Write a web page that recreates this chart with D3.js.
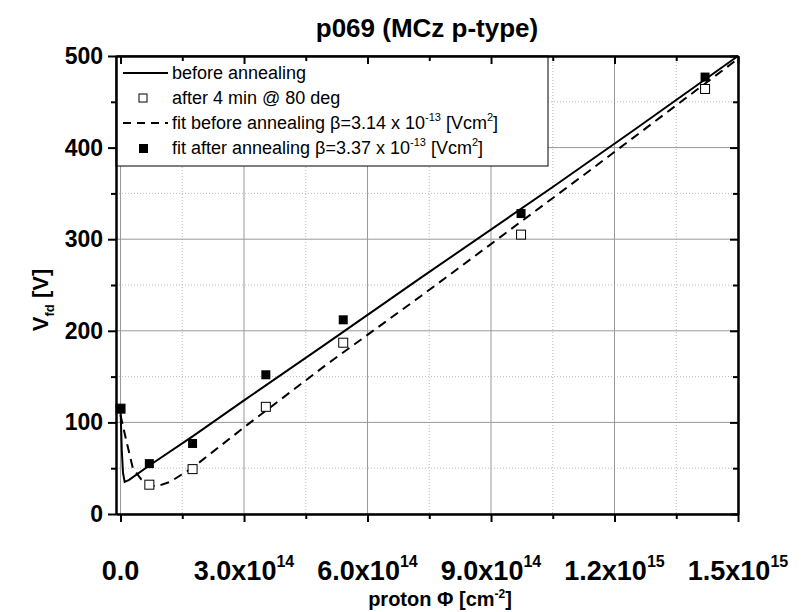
<!DOCTYPE html>
<html>
<head>
<meta charset="utf-8">
<script src="https://cdn.jsdelivr.net/npm/d3@7/dist/d3.min.js"></script>
<style>
  body { margin: 0; background: #fff; }
  text { font-family: "Liberation Sans", Arial, sans-serif; }
</style>
</head>
<body>
<svg id="chart" width="802" height="612"></svg>
<script>
// measured points (fluence in cm^-2, Vfd in V)
const fluence = [0, 7e13, 1.75e14, 3.53e14, 5.41e14, 9.73e14, 1.42e15];
const vfdAfter4min = [115, 32, 49, 117, 187, 305, 464];
const vfdAfterAnneal = [115, 55, 77, 152, 212, 328, 477];

// curves
const beforeFluence = [0, 3e12, 6e12, 1e13, 2e13, 7e13, 1.76e14, 3e14, 5e14, 7.3e14, 1.05e15, 1.25e15, 1.5e15];
const beforeV = [115, 70, 45, 35, 37, 53, 85, 124, 186, 258, 357, 420, 500];
const fitFluence = [0, 1.4e13, 3e13, 5e13, 7e13, 9e13, 1.2e14, 1.75e14, 3.07e14, 5e14, 7.3e14, 8.2e14, 1.14e15, 1.5e15];
const fitV = [108, 80, 50, 38, 31, 30.5, 35, 50.5, 97, 163, 238, 268, 375, 497];

const xMajor = [0, 3e14, 6e14, 9e14, 1.2e15, 1.5e15];
const xMinor = [1.5e14, 4.5e14, 7.5e14, 1.05e15, 1.35e15];
const xLabels = [["0.0", ""], ["3.0x10", "14"], ["6.0x10", "14"], ["9.0x10", "14"], ["1.2x10", "15"], ["1.5x10", "15"]];
const yMajor = [0, 100, 200, 300, 400, 500];
const yMinor = [50, 150, 250, 350, 450];

const svg = d3.select("#chart");
const pLeft = 116, pRight = 738, pTop = 56, pBottom = 514;

const x = d3.scaleLinear().domain([-1.1e13, 1.5e15]).range([pLeft, pRight]);
const y = d3.scaleLinear().domain([0, 500]).range([pBottom, pTop]);

// grid
const grid = svg.append("g");
grid.selectAll(".gxm").data(xMinor).join("line")
  .attr("x1", d => x(d)).attr("x2", d => x(d)).attr("y1", pTop).attr("y2", pBottom)
  .attr("stroke", "#bbb").attr("stroke-dasharray", "1,2");
grid.selectAll(".gym").data(yMinor).join("line")
  .attr("x1", pLeft).attr("x2", pRight).attr("y1", d => y(d)).attr("y2", d => y(d))
  .attr("stroke", "#bbb").attr("stroke-dasharray", "1,2");
grid.selectAll(".gx").data(xMajor).join("line")
  .attr("x1", d => x(d)).attr("x2", d => x(d)).attr("y1", pTop).attr("y2", pBottom)
  .attr("stroke", "#999");
grid.selectAll(".gy").data(yMajor).join("line")
  .attr("x1", pLeft).attr("x2", pRight).attr("y1", d => y(d)).attr("y2", d => y(d))
  .attr("stroke", "#999");

// curves
const line = d3.line().x(d => x(d[0])).y(d => y(d[1]));
svg.append("path")
  .attr("d", line(d3.zip(beforeFluence, beforeV)))
  .attr("fill", "none").attr("stroke", "#000").attr("stroke-width", 2);
svg.append("path")
  .attr("d", line(d3.zip(fitFluence, fitV)))
  .attr("fill", "none").attr("stroke", "#000").attr("stroke-width", 2)
  .attr("stroke-dasharray", "9,6");

// markers
const ms = 9;
svg.selectAll(".open").data(d3.zip(fluence, vfdAfter4min)).join("rect")
  .attr("x", d => x(d[0]) - ms / 2).attr("y", d => y(d[1]) - ms / 2)
  .attr("width", ms).attr("height", ms)
  .attr("fill", "#fff").attr("stroke", "#000").attr("stroke-width", 1);
svg.selectAll(".filled").data(d3.zip(fluence, vfdAfterAnneal)).join("rect")
  .attr("x", d => x(d[0]) - ms / 2).attr("y", d => y(d[1]) - ms / 2)
  .attr("width", ms).attr("height", ms).attr("fill", "#000");

// legend
const lg = svg.append("g");
lg.append("rect").attr("x", pLeft).attr("y", pTop).attr("width", 432).attr("height", 110)
  .attr("fill", "#fff").attr("stroke", "#000").attr("stroke-width", 1);
const rows = [73, 98, 123, 148];
lg.append("line").attr("x1", 123).attr("x2", 168).attr("y1", rows[0]).attr("y2", rows[0])
  .attr("stroke", "#000").attr("stroke-width", 2);
lg.append("rect").attr("x", 139).attr("y", rows[1] - 4).attr("width", 8).attr("height", 8)
  .attr("fill", "#fff").attr("stroke", "#000");
lg.append("line").attr("x1", 123).attr("x2", 168).attr("y1", rows[2]).attr("y2", rows[2])
  .attr("stroke", "#000").attr("stroke-width", 2).attr("stroke-dasharray", "8,6");
lg.append("rect").attr("x", 139).attr("y", rows[3] - 4).attr("width", 9).attr("height", 9)
  .attr("fill", "#000");
function legendText(row, parts) {
  const t = lg.append("text").attr("x", 172).attr("y", row + 6).attr("font-size", 18);
  parts.forEach(p => {
    if (p.sup) t.append("tspan").attr("font-size", 11).attr("dy", -8).text(p.sup);
    else t.append("tspan").attr("dy", p.back ? 8 : 0).text(p.t);
  });
}
legendText(rows[0], [{ t: "before annealing" }]);
legendText(rows[1], [{ t: "after 4 min @ 80 deg" }]);
legendText(rows[2], [{ t: "fit before annealing \u03b2=3.14 x 10" }, { sup: "-13" }, { t: " [Vcm", back: true }, { sup: "2" }, { t: "]", back: true }]);
legendText(rows[3], [{ t: "fit after annealing \u03b2=3.37 x 10" }, { sup: "-13" }, { t: " [Vcm", back: true }, { sup: "2" }, { t: "]", back: true }]);

// axes
function axisG(axis, tx, ty) {
  const g = svg.append("g").attr("transform", `translate(${tx},${ty})`).call(axis);
  g.select(".domain").attr("stroke-width", 2);
  g.selectAll(".tick line").attr("stroke-width", 2);
  return g;
}
axisG(d3.axisBottom(x).tickValues(xMajor).tickSize(8).tickSizeOuter(0).tickFormat(""), 0, pBottom);
axisG(d3.axisBottom(x).tickValues(xMinor).tickSize(5).tickSizeOuter(0).tickFormat(""), 0, pBottom);
axisG(d3.axisTop(x).tickValues(xMajor).tickSize(-8).tickSizeOuter(0).tickFormat(""), 0, pTop);
axisG(d3.axisTop(x).tickValues(xMinor).tickSize(-5).tickSizeOuter(0).tickFormat(""), 0, pTop);
axisG(d3.axisLeft(y).tickValues(yMajor).tickSize(8).tickSizeOuter(0).tickFormat(""), pLeft, 0);
axisG(d3.axisLeft(y).tickValues(yMinor).tickSize(5).tickSizeOuter(0).tickFormat(""), pLeft, 0);
axisG(d3.axisRight(y).tickValues(yMajor).tickSize(-8).tickSizeOuter(0).tickFormat(""), pRight, 0);
axisG(d3.axisRight(y).tickValues(yMinor).tickSize(-5).tickSizeOuter(0).tickFormat(""), pRight, 0);

// tick labels
svg.selectAll(".ylab").data(yMajor).join("text")
  .attr("x", 103).attr("y", d => y(d) + 8)
  .attr("text-anchor", "end").attr("font-size", 23).attr("font-weight", "bold")
  .text(d => d);
xMajor.forEach((v, i) => {
  const t = svg.append("text").attr("x", x(v)).attr("y", 580)
    .attr("text-anchor", "middle").attr("font-size", 27).attr("font-weight", "bold");
  t.append("tspan").text(xLabels[i][0]);
  if (xLabels[i][1]) t.append("tspan").attr("font-size", 16).attr("dy", -13).text(xLabels[i][1]);
});

// titles
svg.append("text").attr("x", 427).attr("y", 37).attr("text-anchor", "middle")
  .attr("font-size", 26).attr("font-weight", "bold").text("p069 (MCz p-type)");

const xt = svg.append("text").attr("x", 440).attr("y", 606).attr("text-anchor", "middle")
  .attr("font-size", 20).attr("font-weight", "bold");
xt.append("tspan").text("proton \u03a6 [cm");
xt.append("tspan").attr("font-size", 12).attr("dy", -8).text("-2");
xt.append("tspan").attr("dy", 8).text("]");

const yt = svg.append("text").attr("transform", "translate(48,300) rotate(-90)")
  .attr("text-anchor", "middle").attr("font-size", 22).attr("font-weight", "bold");
yt.append("tspan").text("V");
yt.append("tspan").attr("font-size", 13).attr("dy", 6).text("fd");
yt.append("tspan").attr("dy", -6).text(" [V]");
</script>
</body>
</html>
